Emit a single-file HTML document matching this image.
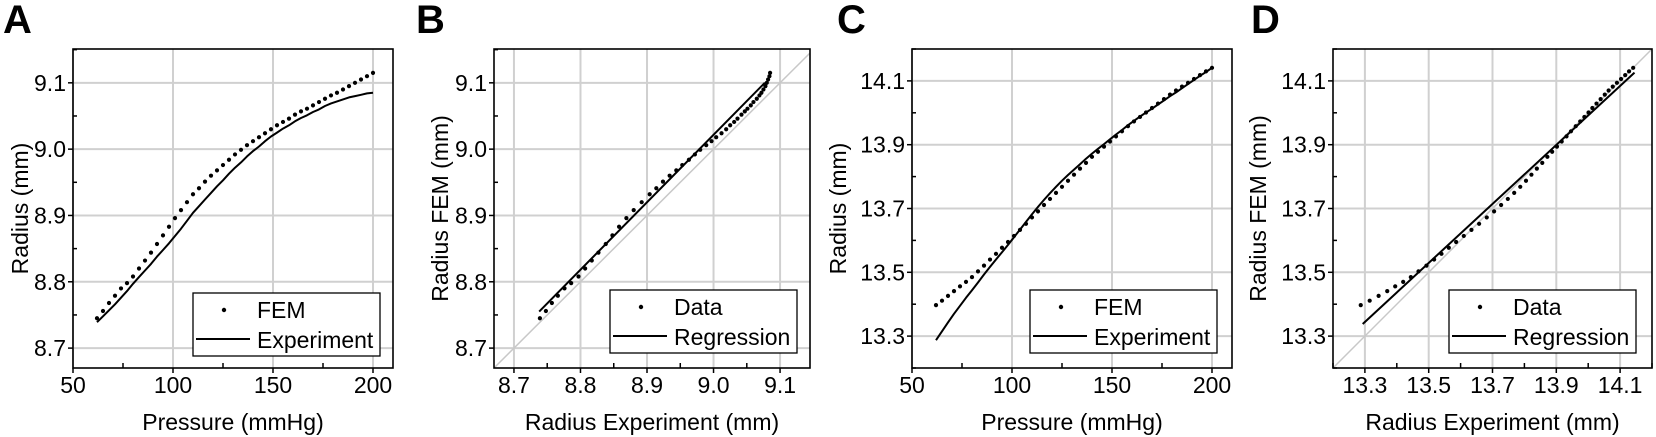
<!DOCTYPE html>
<html><head><meta charset="utf-8">
<style>
html,body{margin:0;padding:0;background:#fff;}
svg{display:block;font-family:"Liberation Sans",sans-serif;}
</style></head>
<body>
<svg id="fig" width="1656" height="437" viewBox="0 0 1656 437"></svg>
<script>
// ---- shared data (pressure sampled every 3 mmHg) ----
const pressure = [62,65,68,71,74,77,80,83,86,89,92,95,98,101,104,107,110,113,116,119,122,125,128,131,134,137,140,143,146,149,152,155,158,161,164,167,170,173,176,179,182,185,188,191,194,197,200];
// Panel A
const femA = [8.745,8.756,8.768,8.779,8.790,8.798,8.808,8.820,8.832,8.844,8.857,8.870,8.883,8.896,8.908,8.920,8.932,8.941,8.951,8.960,8.968,8.976,8.984,8.992,8.999,9.006,9.012,9.018,9.024,9.030,9.036,9.041,9.046,9.052,9.057,9.061,9.066,9.071,9.076,9.081,9.085,9.090,9.095,9.100,9.105,9.110,9.115];
const expA = [8.739,8.748,8.757,8.766,8.776,8.786,8.797,8.807,8.817,8.827,8.838,8.848,8.858,8.869,8.880,8.892,8.904,8.914,8.924,8.934,8.944,8.953,8.963,8.972,8.980,8.989,8.997,9.004,9.012,9.019,9.025,9.031,9.036,9.042,9.047,9.051,9.056,9.060,9.065,9.069,9.072,9.075,9.078,9.080,9.082,9.084,9.085];
// Panel B regression
const regBx = [8.738, 9.077];
const regBy = [8.755, 9.100];
// Panel C
const femC = [13.397,13.411,13.426,13.441,13.456,13.470,13.485,13.503,13.521,13.540,13.558,13.577,13.595,13.614,13.633,13.652,13.672,13.691,13.711,13.730,13.749,13.768,13.787,13.806,13.825,13.843,13.862,13.878,13.894,13.910,13.926,13.942,13.958,13.973,13.987,14.001,14.015,14.029,14.043,14.057,14.070,14.082,14.094,14.106,14.118,14.130,14.141];
const expC = [13.287,13.315,13.343,13.370,13.395,13.420,13.444,13.468,13.493,13.517,13.540,13.563,13.586,13.610,13.634,13.658,13.682,13.705,13.727,13.748,13.768,13.787,13.805,13.822,13.839,13.856,13.872,13.887,13.902,13.917,13.932,13.946,13.961,13.975,13.988,14.001,14.013,14.026,14.039,14.052,14.064,14.077,14.090,14.103,14.116,14.128,14.141];
// Panel D regression
const regDx = [13.293, 14.145];
const regDy = [13.338, 14.126];
// tick labels
const ticksP = [50,100,150,200];
const ticksA = ["8.7","8.8","8.9","9.0","9.1"];
const ticksC = ["13.3","13.5","13.7","13.9","14.1"];

const NS="http://www.w3.org/2000/svg";
const svg=document.getElementById('fig');
function mk(tag,attrs,parent){const e=document.createElementNS(NS,tag);for(const k in attrs)e.setAttribute(k,attrs[k]);(parent||svg).appendChild(e);return e;}

function panel(o){
  const g=mk('g',{});
  
  
  const L=o.x0,R=o.x1,T=49,B=368;
  const sx=v=>L+(v-o.xd[0])/(o.xd[1]-o.xd[0])*(R-L);
  const sy=v=>B-(v-o.yd[0])/(o.yd[1]-o.yd[0])*(B-T);
  const t=mk('text',{x:o.lx,y:33,'font-size':40,'font-weight':'bold',fill:'#000'},g);t.textContent=o.letter;
  
  o.xt.forEach(v=>{const l=mk('line',{x1:sx(v),x2:sx(v),y1:T,y2:B,stroke:'#d0d0d0','stroke-width':2},g);});
  o.yt.forEach(v=>{const l=mk('line',{x1:L,x2:R,y1:sy(v),y2:sy(v),stroke:'#d0d0d0','stroke-width':2},g);});
  if(o.diag){const lo=Math.max(o.xd[0],o.yd[0]),hi=Math.min(o.xd[1],o.yd[1]);
    const d=mk('line',{x1:sx(lo),y1:sy(lo),x2:sx(hi),y2:sy(hi),stroke:'#c8c8c8','stroke-width':1.5},g);}
  const step=o.xt[1]-o.xt[0], ystep=o.yt[1]-o.yt[0];
  for(let v=o.xt[0]-step/2; v<=o.xd[1]+1e-9; v+=step/2){ if(v<o.xd[0]-1e-9)continue;
    const major=Math.abs(((v-o.xt[0])/step)-Math.round((v-o.xt[0])/step))<1e-6;
    mk('line',{x1:sx(v),x2:sx(v),y1:B,y2:major?B+5:B-5,stroke:'#000','stroke-width':1.5},g);}
  for(let v=o.yt[0]-ystep/2; v<=o.yd[1]+1e-9; v+=ystep/2){ if(v<o.yd[0]-1e-9)continue;
    const major=Math.abs(((v-o.yt[0])/ystep)-Math.round((v-o.yt[0])/ystep))<1e-6;
    mk('line',{x1:L,x2:major?L-5:L+4,y1:sy(v),y2:sy(v),stroke:'#000','stroke-width':1.5},g);}
  o.xt.forEach((v,i)=>{const e=mk('text',{x:sx(v),y:393,'font-size':23,'text-anchor':'middle',fill:'#000'},g);e.textContent=o.xl[i];});
  o.yt.forEach((v,i)=>{const e=mk('text',{x:L-7,y:sy(v)+8,'font-size':23,'text-anchor':'end',fill:'#000'},g);e.textContent=o.yl[i];});
  const xt=mk('text',{x:(L+R)/2,y:430,'font-size':23,'text-anchor':'middle',fill:'#000'},g);xt.textContent=o.xtitle;
  
  const ty=(T+B)/2;
  const yt=mk('text',{x:o.ytx,y:ty,'font-size':23,'text-anchor':'middle',fill:'#000',transform:`rotate(-90 ${o.ytx} ${ty})`},g);yt.textContent=o.ytitle;
  
  let d='';o.lx_.forEach((v,i)=>{d+=(i?'L':'M')+sx(v).toFixed(1)+' '+sy(o.ly_[i]).toFixed(1);});
  const p=mk('path',{d:d,fill:'none',stroke:'#000','stroke-width':2,'stroke-linejoin':'round'},g);
  o.dx.forEach((v,i)=>{const c=mk('circle',{cx:sx(v),cy:sy(o.dy[i]),r:2.1,fill:'#000'},g);});
  mk('rect',{x:L,y:T,width:R-L,height:B-T,fill:'none',stroke:'#000','stroke-width':1.6},g);
  const lg=mk('g',{},g);
  const lx=o.leg[0],ly=o.leg[1],lw=o.leg[2],lh=o.leg[3];
  mk('rect',{x:lx,y:ly,width:lw,height:lh,fill:'#fff',stroke:'#000','stroke-width':1.3},lg);
  mk('circle',{cx:lx+31,cy:ly+17,r:2.2,fill:'#000'},lg);
  const a=mk('text',{x:lx+64,y:ly+25,'font-size':23,fill:'#000'},lg);a.textContent=o.legA;
  mk('line',{x1:lx+3,x2:lx+57,y1:ly+46,y2:ly+46,stroke:'#000','stroke-width':2},lg);
  const b=mk('text',{x:lx+64,y:ly+55,'font-size':23,fill:'#000'},lg);b.textContent=o.legB;
}

panel({name:'panel-a',letter:'A',lx:3,x0:73,x1:393,xd:[50,210],yd:[8.67,9.151],xt:[50,100,150,200],xl:ticksP,yt:[8.7,8.8,8.9,9.0,9.1],yl:ticksA,
  xtitle:'Pressure (mmHg)',ytitle:'Radius (mm)',ytx:28,lx_:pressure,ly_:expA,dx:pressure,dy:femA,leg:[193,293,187,63],legA:'FEM',legB:'Experiment'});
panel({name:'panel-b',letter:'B',lx:416,x0:494,x1:810,xd:[8.67,9.145],yd:[8.67,9.151],xt:[8.7,8.8,8.9,9.0,9.1],xl:ticksA,yt:[8.7,8.8,8.9,9.0,9.1],yl:ticksA,diag:true,
  xtitle:'Radius Experiment (mm)',ytitle:'Radius FEM (mm)',ytx:448,lx_:regBx,ly_:regBy,dx:expA,dy:femA,leg:[610,290,187,63],legA:'Data',legB:'Regression'});
panel({name:'panel-c',letter:'C',lx:837,x0:912,x1:1232,xd:[50,210],yd:[13.2,14.2],xt:[50,100,150,200],xl:ticksP,yt:[13.3,13.5,13.7,13.9,14.1],yl:ticksC,
  xtitle:'Pressure (mmHg)',ytitle:'Radius (mm)',ytx:846,lx_:pressure,ly_:expC,dx:pressure,dy:femC,leg:[1030,290,187,63],legA:'FEM',legB:'Experiment'});
panel({name:'panel-d',letter:'D',lx:1251,x0:1333,x1:1652,xd:[13.2,14.2],yd:[13.2,14.2],xt:[13.3,13.5,13.7,13.9,14.1],xl:ticksC,yt:[13.3,13.5,13.7,13.9,14.1],yl:ticksC,diag:true,
  xtitle:'Radius Experiment (mm)',ytitle:'Radius FEM (mm)',ytx:1266,lx_:regDx,ly_:regDy,dx:expC,dy:femC,leg:[1449,290,187,63],legA:'Data',legB:'Regression'});
</script>
</body></html>
